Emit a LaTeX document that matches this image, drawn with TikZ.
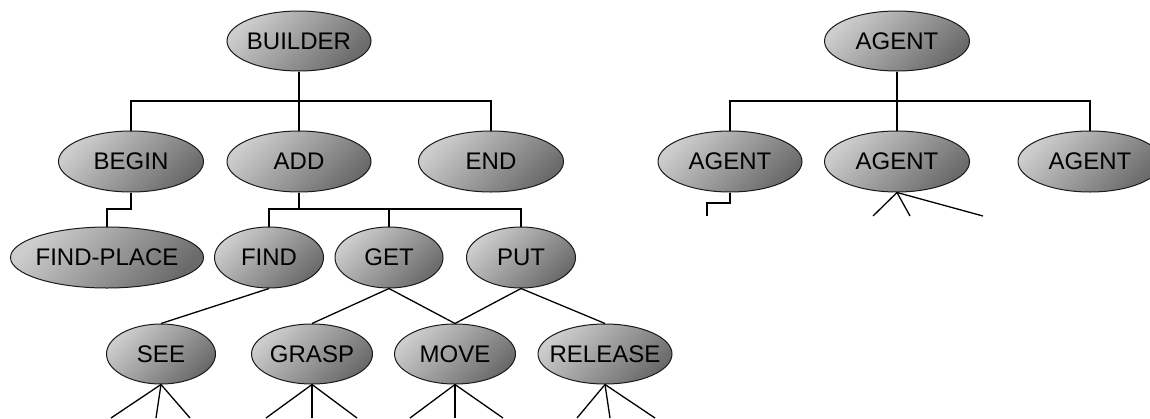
\documentclass[tikz,border=0pt]{standalone}
\usepackage{fontspec}
\setmainfont{Liberation Sans}
\usetikzlibrary{shapes.geometric}
\definecolor{blobhi}{HTML}{CDCDCD}
\definecolor{bloblo}{HTML}{6A6A6A}
\definecolor{blobedge}{HTML}{1A1A1A}
\tikzset{
  blob/.style={ellipse, draw=blobedge, line width=1pt, inner sep=0pt,
    top color=blobhi, bottom color=bloblo, shading angle=45,
    minimum height=61pt},
  every label/.style={font=\fontsize{24}{28}\selectfont, inner sep=0pt, text=black},
  link/.style={line width=1.3pt, draw=black},
}
\begin{document}
\begin{tikzpicture}[x=1pt, y=-1pt]
\clip (0,0) rectangle (1150,418);
\fill[white] (0,0) rectangle (1150,418);

% ---- builder tree ----
\node[blob, minimum width=144pt, minimum height=60pt, label=center:BUILDER] (builder) at (299,41) {};
\node[blob, minimum width=145pt, label=center:BEGIN] (begin) at (131,161.5) {};
\node[blob, minimum width=144pt, label=center:ADD] (add) at (299,161.5) {};
\node[blob, minimum width=145pt, label=center:END] (end) at (491,161.5) {};

\node[blob, minimum width=193pt, label=center:FIND-PLACE] (findplace) at (107,257.5) {};
\node[blob, minimum width=109pt, label=center:FIND] (find) at (269,257.5) {};
\node[blob, minimum width=108pt, label=center:GET] (get) at (389,257.5) {};
\node[blob, minimum width=109pt, label=center:PUT] (put) at (521,257.5) {};

\node[blob, minimum width=109pt, minimum height=60pt, label=center:SEE] (see) at (161,354) {};
\node[blob, minimum width=121pt, minimum height=60pt, label=center:GRASP] (grasp) at (312,354) {};
\node[blob, minimum width=121pt, minimum height=60pt, label=center:MOVE] (move) at (455,354) {};
\node[blob, minimum width=134pt, minimum height=60pt, label=center:RELEASE] (release) at (605,354) {};

% junction points of the elbow connectors
\coordinate (bj) at (299,101);
\coordinate (gj) at (131,209);
\coordinate (aj) at (299,209);

\draw[link] (builder.south) -- (bj);
\draw[link] (bj) -| (begin.north);
\draw[link] (bj) -- (add.north);
\draw[link] (bj) -| (end.north);

\draw[link] (begin.south) -- (gj) -| (findplace.north);

\draw[link] (add.south) -- (aj);
\draw[link] (aj) -| (find.north);
\draw[link] (aj) -| (get.north);
\draw[link] (aj) -| (put.north);

\draw[link] (find.south) -- (see.north);
\draw[link] (get.south) -- (grasp.north);
\draw[link] (get.south) -- (move.north);
\draw[link] (put.south) -- (move.north);
\draw[link] (put.south) -- (release.north);

% open-ended branches below the bottom row
\coordinate (s1) at (111,418); \coordinate (s2) at (156,418); \coordinate (s3) at (190,418);
\coordinate (g1) at (266,418); \coordinate (g2) at (312,418); \coordinate (g3) at (357,418);
\coordinate (m1) at (410,418); \coordinate (m2) at (455,418); \coordinate (m3) at (503,418);
\coordinate (r1) at (577,418); \coordinate (r2) at (610,418); \coordinate (r3) at (655,418);
\foreach \e in {s1,s2,s3} \draw[link] (see.south) -- (\e);
\foreach \e in {g1,g2,g3} \draw[link] (grasp.south) -- (\e);
\foreach \e in {m1,m2,m3} \draw[link] (move.south) -- (\e);
\foreach \e in {r1,r2,r3} \draw[link] (release.south) -- (\e);

% ---- agent tree ----
\node[blob, minimum width=145pt, minimum height=60pt, label=center:AGENT] (agent) at (897,41) {};
\node[blob, minimum width=144pt, label=center:AGENT] (agenta) at (730,161.5) {};
\node[blob, minimum width=145pt, label=center:AGENT] (agentb) at (897,161.5) {};
\node[blob, minimum width=144pt, label=center:AGENT] (agentc) at (1090,161.5) {};

\coordinate (tj) at (897,101);
\draw[link] (agent.south) -- (tj);
\draw[link] (tj) -| (agenta.north);
\draw[link] (tj) -- (agentb.north);
\draw[link] (tj) -| (agentc.north);

\coordinate (aj1) at (730,203);
\coordinate (ae1) at (707,216);
\draw[link] (agenta.south) -- (aj1) -| (ae1);

\coordinate (b1) at (873,216); \coordinate (b2) at (910,216); \coordinate (b3) at (983,216);
\foreach \e in {b1,b2,b3} \draw[link] (agentb.south) -- (\e);
\end{tikzpicture}
\end{document}
